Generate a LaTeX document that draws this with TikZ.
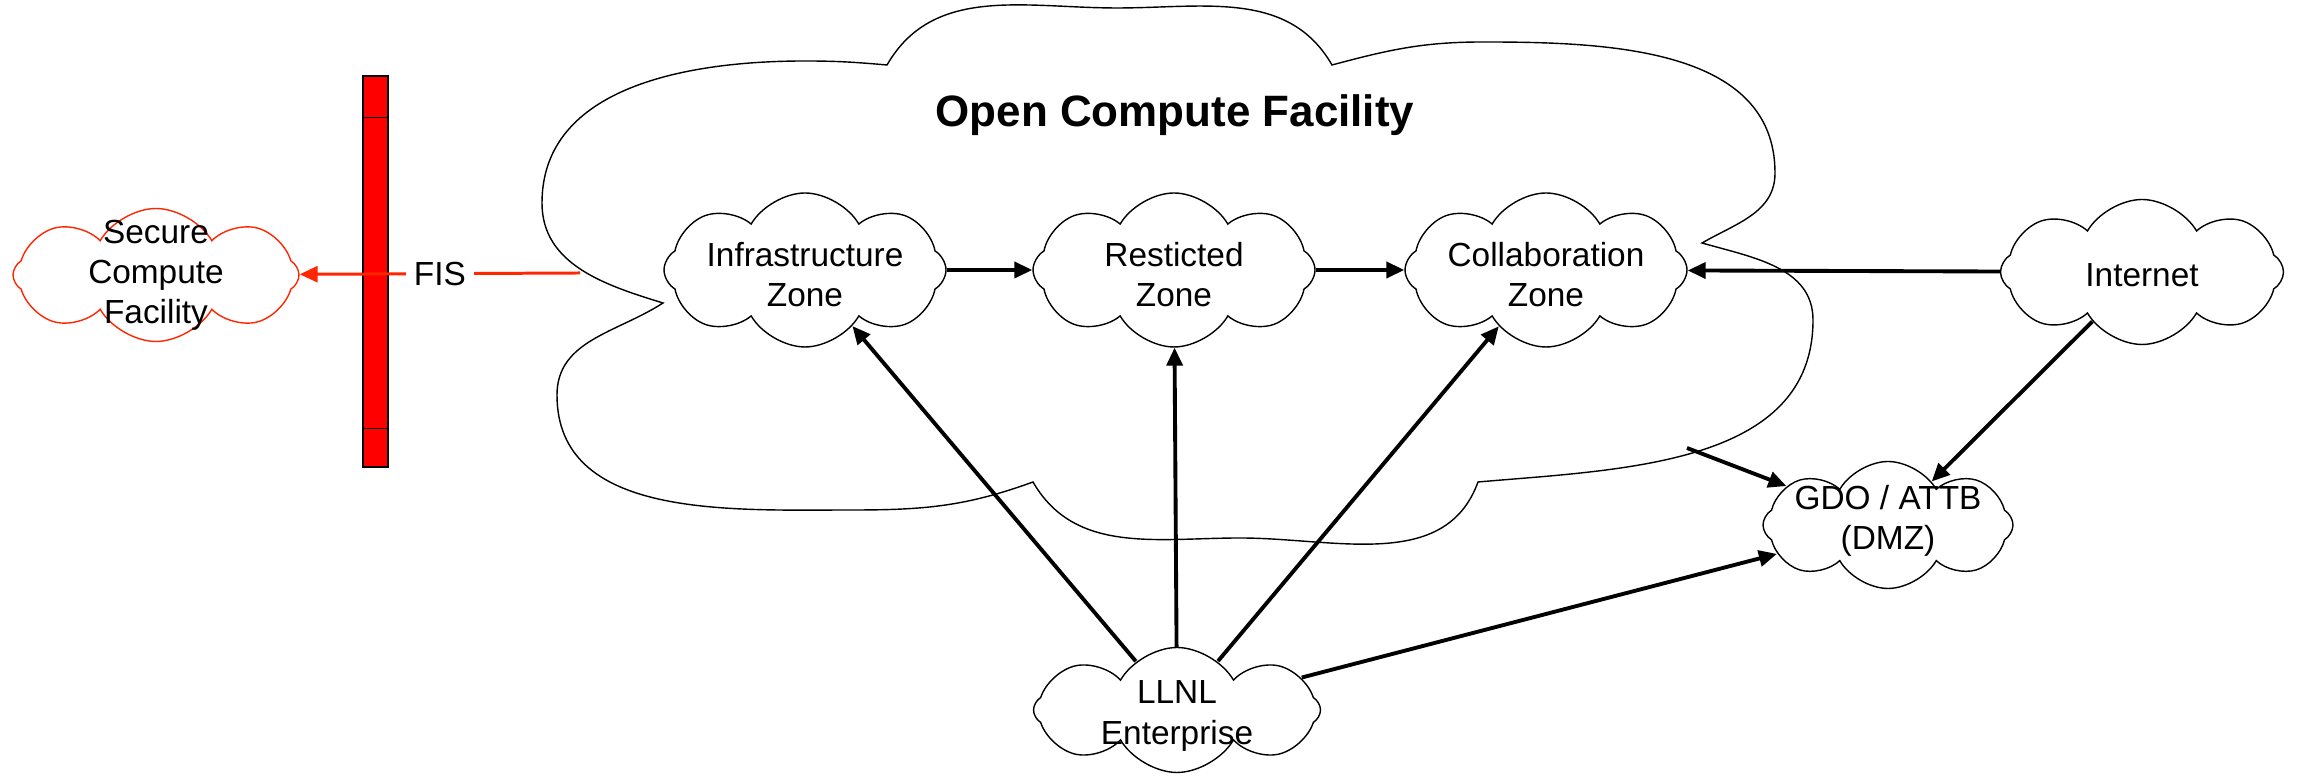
\documentclass[tikz,border=0pt]{standalone}
\usepackage{fontspec}
\setmainfont{Liberation Sans}
\usetikzlibrary{shapes.symbols,arrows.meta}
\definecolor{fisred}{RGB}{255,38,0}
\tikzset{
        cld/.style={cloud, draw, fill=white, cloud puffs=8, cloud puff arc=120, inner sep=0pt},
        lbl/.style={align=center, font=\fontsize{9.5}{11.4}\selectfont},
        arr/.style={-{Triangle[length=1.8mm,width=1.6mm]}, line width=1.1pt},
}
\begin{document}
\begin{tikzpicture}
        \useasboundingbox (0,0) rectangle (23.03,7.80);
        \node[draw, fill=red, minimum width=0.25cm, minimum height=3.91cm, inner sep=0pt] (wall) at (3.755,5.085) {};
        \draw ([yshift=-4.2mm]wall.north west) -- ([yshift=-4.2mm]wall.north east);
        \draw ([yshift=3.9mm]wall.south west) -- ([yshift=3.9mm]wall.south east);
        \draw[fill=white] (8.87,7.15) to[out=60,in=180] (11.17,7.72) to[out=0,in=120] (13.32,7.15)
            to[out=15,in=180] (14.83,7.38) to[out=0,in=90] (17.75,6.07) to[out=-90,in=30] (17.02,5.37)
            to[out=-16,in=90] (18.13,4.60) to[out=-90,in=5] (14.78,2.98)
            to[out=-110,in=0] (12.40,2.42) to[out=180,in=-60] (10.33,2.98)
            to[out=200,in=0] (8.53,2.70) to[out=180,in=-90] (5.57,3.85) to[out=90,in=213] (6.63,4.77)
            to[out=163,in=-90] (5.42,5.77) to[out=90,in=180] (8.05,7.19) to[out=0,in=175] (8.87,7.15) -- cycle;
        \coordinate (ocf-w) at (5.80,5.07);
        \coordinate (ocf-e) at (16.87,3.32);
        \node[font=\fontsize{12.5}{15}\selectfont\bfseries] (ocf-t) at (11.75,6.65) {Open Compute Facility};
        \foreach \n/\x/\t in {infra/8.05/Infrastructure, rest/11.74/Resticted, collab/15.46/Collaboration} {
            \node[cld, aspect=1.83, minimum width=2.82cm, minimum height=1.54cm] (\n) at (\x,5.10) {};
            \node[lbl] (\n-t) at (\x,5.05) {\t\\Zone};
        }
        \node[cld, aspect=1.95, minimum width=2.83cm, minimum height=1.45cm] (inet) at (21.42,5.08) {};
        \node[lbl] (inet-t) at (21.42,5.05) {Internet};
        \node[cld, aspect=1.97, minimum width=2.50cm, minimum height=1.27cm] (gdo) at (18.88,2.55) {};
        \node[lbl] (gdo-t) at (18.88,2.59) {GDO / ATTB\\(DMZ)};
        \node[cld, aspect=2.3, minimum width=2.87cm, minimum height=1.25cm] (llnl) at (11.77,0.70) {};
        \node[lbl] (llnl-t) at (11.77,0.64) {LLNL\\Enterprise};
        \node[cld, aspect=2.15, draw=fisred, minimum width=2.86cm, minimum height=1.33cm] (scf) at (1.56,5.05) {};
        \node[lbl] (scf-t) at (1.56,5.05) {Secure\\Compute\\Facility};
        \draw[arr] (infra) -- (rest);
        \draw[arr] (rest) -- (collab);
        \draw[arr] (inet) -- (collab);
        \draw[arr] (inet) -- (gdo);
        \draw[arr] (ocf-e) -- (gdo);
        \foreach \z in {infra,rest,collab,gdo} {
            \draw[arr] (llnl) -- (\z);
        }
        \draw[arr, draw=fisred, fill=fisred, line width=0.85pt] (ocf-w) -- (scf)
            node[lbl, midway, fill=white, inner sep=0.8mm] (fis) {FIS};
\end{tikzpicture}
\end{document}
